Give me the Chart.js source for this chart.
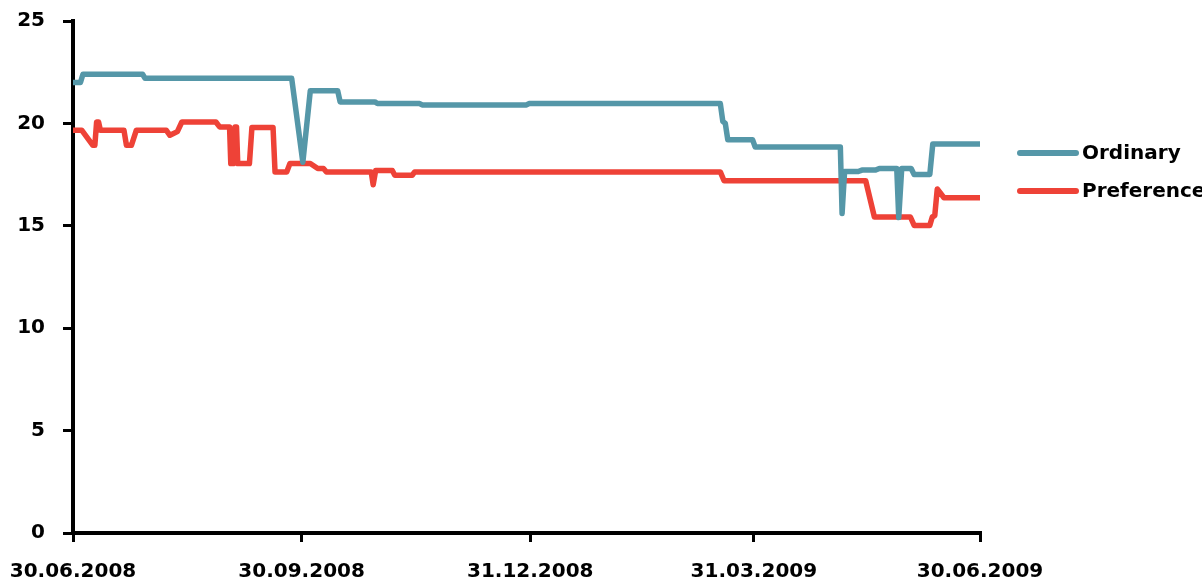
<!DOCTYPE html>
<html>
<head>
<meta charset="utf-8">
<title>Ordinary vs Preference</title>
<script src="https://cdn.jsdelivr.net/npm/chart.js@4"></script>
<style>
  html, body { margin: 0; padding: 0; background: #fff; }
  #wrap { width: 1202px; height: 580px; position: relative; }
</style>
</head>
<body>
<div id="wrap"><canvas id="chart"></canvas></div>
<script>
// x positions are days counted from 30.06.2008
const tickDays = [0, 92, 184, 274, 365];
const tickLabels = ['30.06.2008', '30.09.2008', '31.12.2008', '31.03.2009', '30.06.2009'];
const yTicks = [0, 5, 10, 15, 20, 25];

// Ordinary series (day, value)
const ordinaryDays = [0, 3, 4, 28, 29, 88, 92.5, 95.5, 106.5, 107.5, 121.5, 122.5, 139.5, 140.5, 182.5, 183.5,
  260.5, 261.5, 262.5, 263.5, 273.5, 274.5, 308.8, 309.5, 310.5, 316, 317.5, 323, 324.5, 331.5, 332.3, 333.5,
  337.3, 338.5, 344.8, 346, 365];
const ordinaryValues = [22.0, 22.0, 22.4, 22.4, 22.2, 22.2, 18.1, 21.6, 21.6, 21.05, 21.05, 20.97, 20.97, 20.9, 20.9, 20.97,
  20.97, 20.1, 20.0, 19.2, 19.2, 18.85, 18.85, 15.6, 17.65, 17.65, 17.72, 17.72, 17.8, 17.8, 15.4, 17.8,
  17.8, 17.5, 17.5, 19.0, 19.0];

// Preference series (day, value)
const preferenceDays = [0, 3.5, 8, 8.8, 9.5, 10.3, 11, 20.5, 21.5, 23.5, 25.5, 37.5, 39, 42, 43.8, 57.5, 59, 63, 63.5,
  64.5, 65.2, 65.8, 66.3, 71, 72, 80.5, 81.3, 86, 87.3, 95.5, 98.5, 100.8, 102, 120, 120.8, 121.8, 128.5, 129.5,
  136.5, 137.5, 260.5, 262, 319, 322.5, 337, 338.5, 344.8, 345.8, 346.8, 347.8, 350.5, 365];
const preferenceValues = [19.67, 19.67, 18.93, 18.93, 20.07, 20.07, 19.67, 19.67, 18.93, 18.93, 19.67, 19.67, 19.42, 19.6,
  20.07, 20.07, 19.83, 19.83, 18.04, 18.04, 19.83, 19.83, 18.04, 18.04, 19.8, 19.8, 17.63, 17.63, 18.04, 18.04, 17.8,
  17.8, 17.63, 17.63, 17.0, 17.7, 17.7, 17.47, 17.47, 17.63, 17.63, 17.2, 17.2, 15.43, 15.43, 15.02, 15.02, 15.43,
  15.5, 16.8, 16.37, 16.37];

const TEAL = '#5597a8';
const RED = '#ee4237';
const FONT = { family: '"DejaVu Sans", Verdana, sans-serif', size: 20, weight: 'bold' };

function toPoints(days, values) {
  return days.map((d, i) => ({ x: d, y: values[i] }));
}

// drop the label overhang padding so the layout padding decides the plot box
function noPadding(scale) {
  scale.paddingLeft = 0;
  scale.paddingRight = 0;
  scale.paddingTop = 0;
  scale.paddingBottom = 0;
}

// Legend drawn at the right of the plot
const sideLegend = {
  id: 'sideLegend',
  afterDraw(chart) {
    const ctx = chart.ctx;
    const left = chart.chartArea.right + 40;
    const rows = [153, 191];
    ctx.save();
    chart.data.datasets.forEach((ds, i) => {
      const y = rows[i];
      ctx.beginPath();
      ctx.lineCap = 'round';
      ctx.lineWidth = 6;
      ctx.strokeStyle = ds.borderColor;
      ctx.moveTo(left, y);
      ctx.lineTo(left + 56, y);
      ctx.stroke();
      ctx.fillStyle = '#000';
      ctx.font = 'bold 20px "DejaVu Sans", Verdana, sans-serif';
      ctx.textBaseline = 'middle';
      ctx.fillText(ds.label, left + 62, y + 1);
    });
    ctx.restore();
  }
};

new Chart(document.getElementById('chart'), {
  type: 'line',
  data: {
    datasets: [
      {
        label: 'Ordinary',
        data: toPoints(ordinaryDays, ordinaryValues),
        borderColor: TEAL,
        borderWidth: 5.5,
        pointRadius: 0,
        tension: 0,
        borderCapStyle: 'round',
        borderJoinStyle: 'round'
      },
      {
        label: 'Preference',
        data: toPoints(preferenceDays, preferenceValues),
        borderColor: RED,
        borderWidth: 5.5,
        pointRadius: 0,
        tension: 0,
        borderCapStyle: 'round',
        borderJoinStyle: 'round'
      }
    ]
  },
  options: {
    responsive: true,
    maintainAspectRatio: false,
    animation: false,
    layout: { padding: { top: 21, right: 222, left: 0, bottom: 0 } },
    plugins: {
      legend: { display: false },
      tooltip: { enabled: false }
    },
    scales: {
      x: {
        type: 'linear',
        min: 0,
        max: 365,
        afterBuildTicks: scale => { scale.ticks = tickDays.map(v => ({ value: v })); },
        afterFit: scale => { scale.height = 47; noPadding(scale); },
        ticks: {
          color: '#000',
          font: FONT,
          padding: 18,
          maxRotation: 0,
          autoSkip: false,
          callback: (value, index) => tickLabels[index]
        },
        grid: { drawOnChartArea: false, color: '#000', lineWidth: 3, tickLength: 9 },
        border: { color: '#000', width: 4 }
      },
      y: {
        min: 0,
        max: 25,
        afterBuildTicks: scale => { scale.ticks = yTicks.map(v => ({ value: v })); },
        afterFit: scale => { scale.width = 73; noPadding(scale); },
        ticks: { color: '#000', font: FONT, padding: 18 },
        grid: { drawOnChartArea: false, color: '#000', lineWidth: 3, tickLength: 10 },
        border: { color: '#000', width: 4 }
      }
    }
  },
  plugins: [sideLegend]
});
</script>
</body>
</html>
